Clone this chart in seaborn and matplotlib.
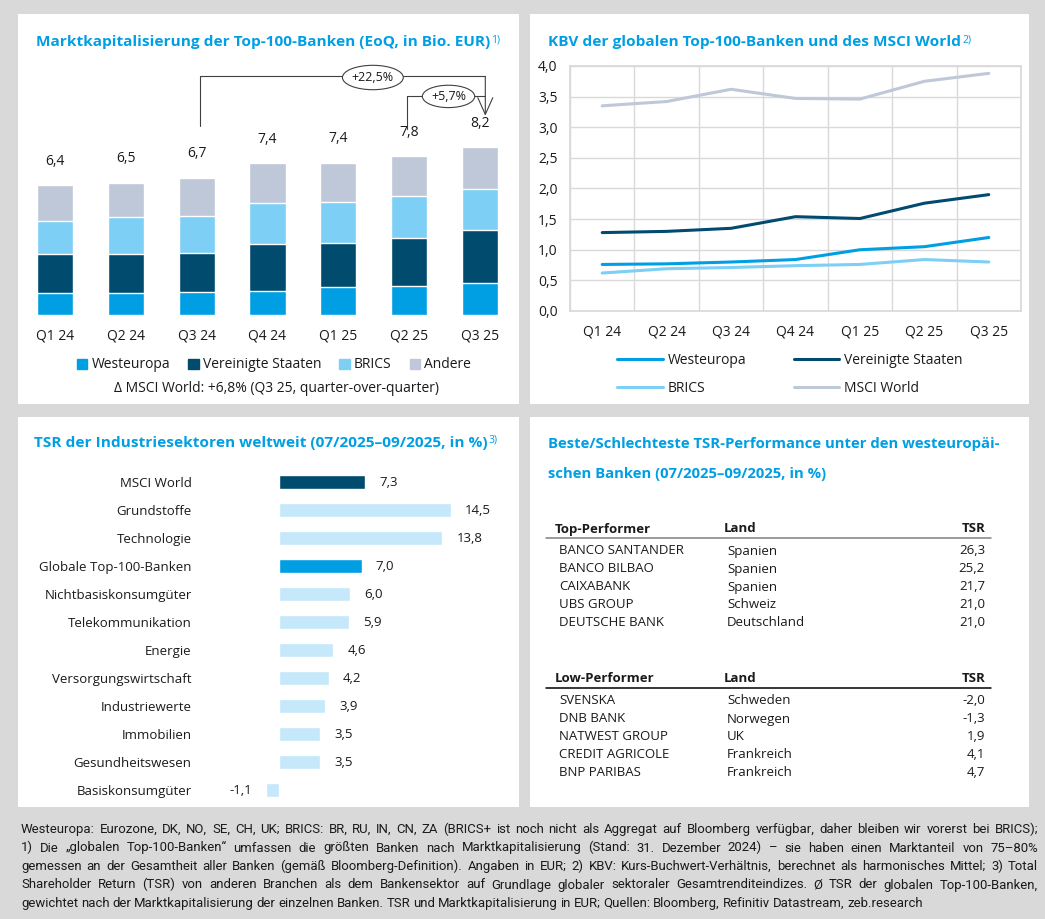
import numpy as np
import pandas as pd
import seaborn as sns
import matplotlib.pyplot as plt
from matplotlib import font_manager
from matplotlib.patches import Rectangle, Ellipse, Patch
from matplotlib.lines import Line2D
from matplotlib.ticker import FuncFormatter, MultipleLocator

# ---- data ----
quarters = ["Q1 24", "Q2 24", "Q3 24", "Q4 24", "Q1 25", "Q2 25", "Q3 25"]

# Marktkapitalisierung Top-100-Banken, Bio. EUR
mk_westeuropa = [1.06, 1.06, 1.11, 1.16, 1.36, 1.41, 1.59]
mk_usa = [1.93, 1.93, 1.93, 2.32, 2.18, 2.37, 2.59]
mk_brics = [1.62, 1.82, 1.82, 2.01, 2.03, 2.09, 2.01]
mk_andere = [1.78, 1.70, 1.88, 1.98, 1.91, 1.93, 2.06]
mk_total_labels = ["6,4", "6,5", "6,7", "7,4", "7,4", "7,8", "8,2"]
chg_year = "+22,5%"
chg_quarter = "+5,7%"

# KBV
kbv_westeuropa = [0.76, 0.77, 0.80, 0.84, 1.00, 1.05, 1.20]
kbv_usa = [1.28, 1.30, 1.35, 1.54, 1.51, 1.76, 1.90]
kbv_brics = [0.62, 0.69, 0.71, 0.74, 0.76, 0.84, 0.80]
kbv_msci = [3.35, 3.42, 3.62, 3.47, 3.46, 3.75, 3.88]

# TSR Sektoren 07/2025-09/2025
sektoren = ["MSCI World", "Grundstoffe", "Technologie", "Globale Top-100-Banken",
            "Nichtbasiskonsumgüter", "Telekommunikation", "Energie",
            "Versorgungswirtschaft", "Industriewerte", "Immobilien",
            "Gesundheitswesen", "Basiskonsumgüter"]
tsr_sektoren = [7.3, 14.5, 13.8, 7.0, 6.0, 5.9, 4.6, 4.2, 3.9, 3.5, 3.5, -1.1]

# Tabelle westeuropaeische Banken
top_banken = ["BANCO SANTANDER", "BANCO BILBAO", "CAIXABANK", "UBS GROUP", "DEUTSCHE BANK"]
top_land = ["Spanien", "Spanien", "Spanien", "Schweiz", "Deutschland"]
top_tsr = [26.3, 25.2, 21.7, 21.0, 21.0]
low_banken = ["SVENSKA", "DNB BANK", "NATWEST GROUP", "CREDIT AGRICOLE", "BNP PARIBAS"]
low_land = ["Schweden", "Norwegen", "UK", "Frankreich", "Frankreich"]
low_tsr = [-2.0, -1.3, 1.9, 4.1, 4.7]

footer = [
    "Westeuropa: Eurozone, DK, NO, SE, CH, UK; BRICS: BR, RU, IN, CN, ZA (BRICS+ ist noch nicht als Aggregat auf Bloomberg verfügbar, daher bleiben wir vorerst bei BRICS);",
    "1) Die „globalen Top-100-Banken“ umfassen die größten Banken nach Marktkapitalisierung (Stand: 31. Dezember 2024) – sie haben einen Marktanteil von 75–80%",
    "gemessen an der Gesamtheit aller Banken (gemäß Bloomberg-Definition). Angaben in EUR; 2) KBV: Kurs-Buchwert-Verhältnis, berechnet als harmonisches Mittel; 3) Total",
    "Shareholder Return (TSR) von anderen Branchen als dem Bankensektor auf Grundlage globaler sektoraler Gesamtrenditeindizes. Ø TSR der globalen Top-100-Banken,",
    "gewichtet nach der Marktkapitalisierung der einzelnen Banken. TSR und Marktkapitalisierung in EUR; Quellen: Bloomberg, Refinitiv Datastream, zeb.research",
]

BLUE = "#009FE3"
DARK = "#004B6E"
LIGHT = "#7DCFF5"
GREY = "#BEC8D9"
PALE = "#C5E8FA"
TXT = "#1A1A1A"


def de(v):
    return f"{v:.1f}".replace(".", ",")


sns.set_theme(style="white")
plt.rcParams["font.family"] = ["Open Sans", "DejaVu Sans"]
plt.rcParams["text.color"] = TXT

installed = {f.name for f in font_manager.fontManager.ttflist}
narrow = "Liberation Sans Narrow" if "Liberation Sans Narrow" in installed else "Roboto"

W, H = 1045, 919
fig = plt.figure(figsize=(W / 100, H / 100), dpi=100, facecolor="#D9D9D9")
renderer = fig.canvas.get_renderer()


def fx(x):
    return x / W


def fy(y):
    return 1 - y / H


def px_axes(l, t, r, b):
    ax = fig.add_axes([fx(l), fy(b), (r - l) / W, (b - t) / H])
    ax.set_facecolor("none")
    return ax


for l, t, r, b in [(18, 14, 519, 404), (530, 14, 1029, 404), (18, 417, 519, 807), (530, 417, 1029, 807)]:
    fig.add_artist(Rectangle((fx(l), fy(b)), (r - l) / W, (b - t) / H, transform=fig.transFigure,
                             facecolor="white", edgecolor="none", zorder=-5))


def title(x, y, s, sup=None, size=11.1):
    t = fig.text(fx(x), fy(y), s, color=BLUE, fontsize=size, fontweight="bold", va="center")
    if sup:
        bb = t.get_window_extent(renderer)
        fig.text((bb.x1 + 1) / W, (bb.y1 + 1) / H, sup, color=BLUE, fontsize=7.5, va="top")


# ---- 1) Marktkapitalisierung ----
title(36, 42, "Marktkapitalisierung der Top-100-Banken (EoQ, in Bio. EUR)", "1)")
ax1 = px_axes(20, 71, 515, 315)
parts = np.array([mk_westeuropa, mk_usa, mk_brics, mk_andere])
cum = parts.cumsum(axis=0)
for k, col in zip([3, 2, 1, 0], [GREY, LIGHT, DARK, BLUE]):
    sns.barplot(x=quarters, y=cum[k], color=col, width=0.51, saturation=1, ax=ax1)
tot = cum[-1]
for i, lab in enumerate(mk_total_labels):
    ax1.text(i, tot[i] + 1.18, lab, ha="center", va="center", fontsize=10)
ax1.set_xlim(-0.5, 6.5)
ax1.set_ylim(0, 12)
ax1.set_yticks([])
ax1.tick_params(axis="x", length=0, pad=10, labelsize=10, labelcolor=TXT)
sns.despine(ax=ax1, left=True, bottom=True)

# change brackets
y_big = tot.max() + 3.48
y_small = tot.max() + 2.5
x_r = 6.08
lc = "#404040"
ax1.plot([2.05, 2.05, x_r], [tot[2] + 2.55, y_big, y_big], color=lc, lw=0.8, clip_on=False)
ax1.plot([4.975, 4.975, x_r], [tot[5] + 1.35, y_small, y_small], color=lc, lw=0.8, clip_on=False)
ax1.annotate("", xy=(x_r, tot[6] + 1.55), xytext=(x_r, y_big),
             arrowprops=dict(arrowstyle="->,head_length=1.0,head_width=0.45", color=lc, lw=0.8,
                             shrinkA=0, shrinkB=0), annotation_clip=False)
for cx, cy, w, h, s in [(4.49, y_big - 0.05, 0.86, 1.2, chg_year), (5.56, y_small, 0.74, 1.1, chg_quarter)]:
    ax1.add_patch(Ellipse((cx, cy), w, h, facecolor="white", edgecolor=lc, lw=0.8, clip_on=False, zorder=3))
    ax1.text(cx, cy, s, ha="center", va="center", fontsize=9, zorder=4)

leg1 = [Patch(color=c, label=n) for c, n in zip([BLUE, DARK, LIGHT, GREY],
                                               ["Westeuropa", "Vereinigte Staaten", "BRICS", "Andere"])]
fig.legend(handles=leg1, loc="center", bbox_to_anchor=(fx(274), fy(365)), ncol=4, frameon=False,
           fontsize=10, handlelength=0.75, handleheight=0.75, handletextpad=0.3, columnspacing=1.3,
           borderpad=0, borderaxespad=0)
fig.text(fx(276), fy(389), "Δ MSCI World: +6,8% (Q3 25, quarter-over-quarter)", ha="center", va="center",
         fontsize=10)

# ---- 2) KBV ----
title(548, 42, "KBV der globalen Top-100-Banken und des MSCI World", "2)")
ax2 = px_axes(570, 66, 1021, 311)
regionen = ["Westeuropa", "Vereinigte Staaten", "BRICS", "MSCI World"]
kbv = pd.DataFrame({
    "Quartal": quarters * 4,
    "KBV": kbv_westeuropa + kbv_usa + kbv_brics + kbv_msci,
    "Region": sum([[r] * len(quarters) for r in regionen], []),
})
pal = dict(zip(regionen, [BLUE, DARK, LIGHT, GREY]))
sns.lineplot(data=kbv, x="Quartal", y="KBV", hue="Region", palette=pal, linewidth=2.2,
             sort=False, legend=False, ax=ax2)
ax2.set_xlim(-0.5, 6.5)
ax2.set_ylim(0, 4)
ax2.yaxis.set_major_locator(MultipleLocator(0.5))
ax2.yaxis.set_major_formatter(FuncFormatter(lambda v, p: de(v)))
ax2.set_xticks(np.arange(-0.5, 7, 1), minor=True)
ax2.grid(axis="y", which="major", color="#D9D9D9", lw=1)
ax2.grid(axis="x", which="minor", color="#D9D9D9", lw=1)
ax2.set_axisbelow(True)
for sp in ax2.spines.values():
    sp.set_color("#D9D9D9")
    sp.set_visible(True)
ax2.set_xlabel("")
ax2.set_ylabel("")
ax2.tick_params(axis="both", which="both", length=0, labelsize=10, labelcolor=TXT)
ax2.tick_params(axis="x", pad=10)
ax2.tick_params(axis="y", pad=9)
h2 = [Line2D([], [], color=pal[r], lw=2.2, label=r) for r in regionen]
fig.legend(handles=[h2[0], h2[2], h2[1], h2[3]], loc="upper left", bbox_to_anchor=(fx(617), fy(353)),
           ncol=2, frameon=False, fontsize=10, handlelength=3.3, handletextpad=0.35,
           columnspacing=3.4, labelspacing=0.95, borderpad=0, borderaxespad=0)

# ---- 3) TSR Sektoren ----
title(34, 443, "TSR der Industriesektoren weltweit (07/2025–09/2025, in %)", "3)")
ax3 = px_axes(200, 468, 510, 804)
farben = {s: PALE for s in sektoren}
farben["MSCI World"] = DARK
farben["Globale Top-100-Banken"] = BLUE
sns.barplot(x=tsr_sektoren, y=sektoren, hue=sektoren, palette=farben, legend=False,
            width=0.52, saturation=1, orient="h", ax=ax3)
ax3.set_xlim(-6.64, 19.5)
ax3.set_ylim(11.5, -0.5)
ax3.set_xticks([])
ax3.tick_params(axis="y", length=0, pad=6, labelsize=9.5, labelcolor=TXT)
sns.despine(ax=ax3, left=True, bottom=True)
for i, v in enumerate(tsr_sektoren):
    if v >= 0:
        ax3.text(v + 1.18, i, de(v), ha="left", va="center", fontsize=9.5)
    else:
        ax3.text(v - 1.15, i, de(v), ha="right", va="center", fontsize=9.5)

# ---- 4) Tabelle ----
title(548, 444, "Beste/Schlechteste TSR-Performance unter den westeuropäi-", size=10.75)
title(548, 474, "schen Banken (07/2025–09/2025, in %)", size=10.75)


def table(y0, head, names, lands, vals, line_col):
    fig.text(fx(555), fy(y0), head, fontsize=9.5, fontweight="bold", va="center")
    fig.text(fx(724), fy(y0), "Land", fontsize=9.5, fontweight="bold", va="center")
    fig.text(fx(986), fy(y0), "TSR", fontsize=9.5, fontweight="bold", va="center", ha="right")
    fig.add_artist(Line2D([fx(546), fx(991)], [fy(y0 + 9), fy(y0 + 9)], color=line_col, lw=1.1,
                          transform=fig.transFigure))
    for j, (n, l, v) in enumerate(zip(names, lands, vals)):
        yy = y0 + 22 + 18 * j
        fig.text(fx(559), fy(yy), n, fontsize=9.5, va="center")
        fig.text(fx(727), fy(yy), l, fontsize=9.5, va="center")
        fig.text(fx(985), fy(yy), de(v), fontsize=9.5, va="center", ha="right")


table(529, "Top-Performer", top_banken, top_land, top_tsr, "#808080")
table(679, "Low-Performer", low_banken, low_land, low_tsr, "#000000")

# ---- footer (justified lines) ----
x0, x1 = 21, 1038
probe = [fig.text(0, 0, s, fontsize=10, family=narrow) for s in footer[:-1]]
widest = max(p.get_window_extent(renderer).width for p in probe)
for p in probe:
    p.remove()
fsize = min(9.6, 10 * (x1 - x0) / widest * 0.97)
for k, line in enumerate(footer):
    yy = 833 + 18.5 * k
    words = line.split(" ")
    ts = [fig.text(0, fy(yy), w, fontsize=fsize, family=narrow, va="baseline", color=TXT) for w in words]
    ws = [t.get_window_extent(renderer).width for t in ts]
    if k < len(footer) - 1:
        gap = (x1 - x0 - sum(ws)) / (len(words) - 1)
    else:
        gap = fsize * 0.3
    x = x0
    for t, w in zip(ts, ws):
        t.set_x(fx(x))
        x += w + gap

fig.savefig("out.png", dpi=100, facecolor=fig.get_facecolor())
